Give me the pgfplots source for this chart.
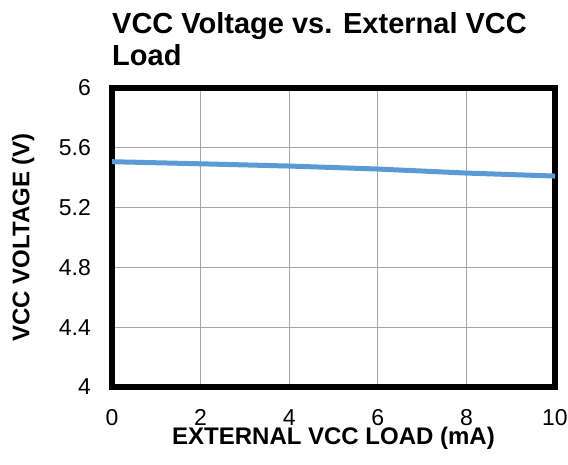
\documentclass[border=0pt]{standalone}
\usepackage{fontspec}
\setmainfont{Liberation Sans}
\usepackage{pgfplots}
\pgfplotsset{compat=1.18}
\definecolor{lineblue}{RGB}{91,155,213}
\definecolor{gridgray}{RGB}{166,166,166}
\begin{document}
\begin{tikzpicture}
\useasboundingbox (0,0) rectangle (568pt,464pt);
\begin{axis}[
    at={(112pt,77pt)}, anchor=south west,
    scale only axis, width=443pt, height=299pt,
    xmin=0, xmax=10, ymin=4, ymax=6,
    xtick={0,2,4,6,8,10},
    ytick={4,4.4,4.8,5.2,5.6,6},
    yticklabels={4,4.4,4.8,5.2,5.6,6},
    major tick length=0pt,
    grid=major,
    grid style={gridgray, line width=1.3pt},
    axis line style={black, line width=5.5pt},
    /pgf/number format/assume math mode=true,
    tick label style={font=\fontsize{23}{27}\selectfont, inner sep=0pt},
    xticklabel style={anchor=north},
    yticklabel style={anchor=east},
    xticklabel shift=22pt,
    yticklabel shift=21pt,
    xlabel={EXTERNAL VCC LOAD (mA)},
    ylabel={VCC VOLTAGE (V)},
    label style={font=\bfseries\fontsize{24}{28}\selectfont, inner sep=0pt},
    xlabel style={at={(axis description cs:0.5,-0.1338)}, anchor=north},
    ylabel style={at={(axis description cs:-0.226,0.5)}, anchor=north},
    title={VCC Voltage vs. External VCC\\Load},
    title style={at={(axis description cs:0,1.234)}, anchor=north west,
        align=left, inner sep=0pt, font=\bfseries\fontsize{29}{32}\selectfont},
]
\addplot[lineblue, line width=5pt] coordinates {
    (0,5.507) (2,5.493) (4,5.478) (6,5.458) (8,5.431) (10,5.411)
};
\end{axis}
\end{tikzpicture}
\end{document}
